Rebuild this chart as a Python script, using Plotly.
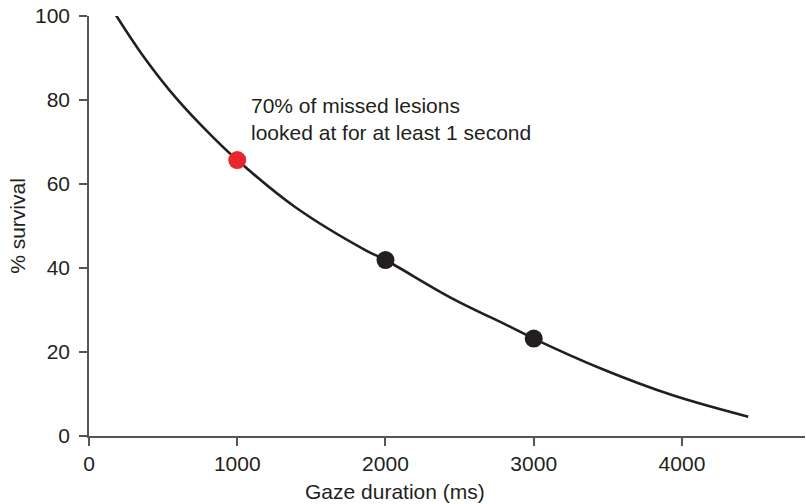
import plotly.graph_objects as go

# Survival curve: percentage of missed lesions still being looked at
# after a given gaze duration (ms)
curve_ms = [171, 359, 594, 829, 1000, 1395, 1867, 2000, 2442, 2836, 3000,
            3465, 3938, 4447]
curve_pct = [100.8, 90.8, 80.2, 71.4, 65.7, 54.4, 44.2, 41.9, 32.9, 26.1,
             23.2, 15.9, 9.7, 4.6]

# Highlighted readings on the curve
one_sec_ms = [1000]
one_sec_pct = [65.7]
other_ms = [2000, 3000]
other_pct = [41.9, 23.2]

x_ticks = [0, 1000, 2000, 3000, 4000]
y_ticks = [0, 20, 40, 60, 80, 100]

ink = "#231f20"
red = "#e8262d"
axis_col = "#555555"
font_family = "Liberation Sans, Arial, Helvetica, sans-serif"
fs = 21

fig = go.Figure()

fig.add_trace(go.Scatter(
    x=curve_ms, y=curve_pct, mode="lines",
    line=dict(color=ink, width=2.6, shape="spline", smoothing=1.0),
    hoverinfo="skip", showlegend=False,
))
fig.add_trace(go.Scatter(
    x=other_ms, y=other_pct, mode="markers",
    marker=dict(color=ink, size=18, line=dict(width=0)),
    showlegend=False,
))
fig.add_trace(go.Scatter(
    x=one_sec_ms, y=one_sec_pct, mode="markers",
    marker=dict(color=red, size=18, line=dict(width=0)),
    showlegend=False,
))

fig.add_annotation(
    x=1080, y=75.5, xref="x", yref="y",
    xanchor="left", yanchor="middle", align="left",
    text="70% of missed lesions<br>looked at for at least 1 second",
    showarrow=False,
    font=dict(family=font_family, size=fs, color=ink),
)

# x-axis caption
fig.add_annotation(
    x=0.427, y=-0.133, xref="paper", yref="paper",
    xanchor="center", yanchor="middle",
    text="Gaze duration (ms)", showarrow=False,
    font=dict(family=font_family, size=fs, color=ink),
)

fig.update_layout(
    width=806, height=504,
    margin=dict(l=89, r=1, t=16, b=68),
    paper_bgcolor="white", plot_bgcolor="white",
    font=dict(family=font_family, size=fs, color=ink),
    xaxis=dict(
        range=[0, 4830], tickvals=x_ticks, ticktext=[str(v) for v in x_ticks],
        showgrid=False, zeroline=False,
        showline=True, linecolor=axis_col, linewidth=1.6,
        ticks="outside", ticklen=8, tickwidth=1.6, tickcolor=axis_col,
        tickfont=dict(size=fs, color=ink),
    ),
    yaxis=dict(
        range=[0, 100], tickvals=y_ticks, ticktext=[str(v) for v in y_ticks],
        showgrid=False, zeroline=False,
        showline=True, linecolor=axis_col, linewidth=1.6,
        ticks="outside", ticklen=8, tickwidth=1.6, tickcolor=axis_col,
        ticklabelstandoff=5,
        tickfont=dict(size=fs, color=ink),
        title=dict(text="% survival", font=dict(size=fs, color=ink), standoff=4),
    ),
)

fig.write_html("out.html")
